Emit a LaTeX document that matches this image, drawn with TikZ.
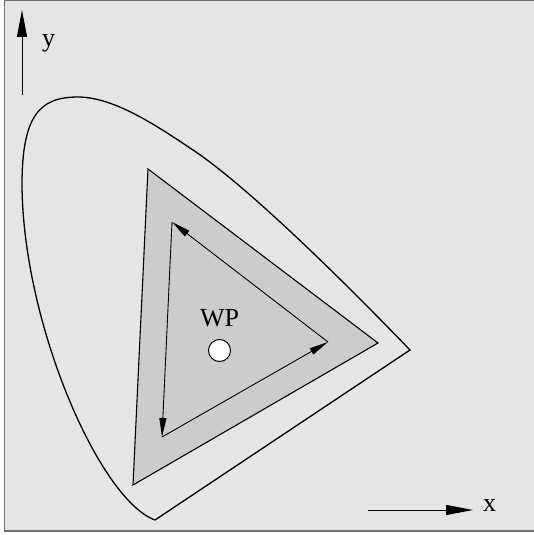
\documentclass[tikz,border=0pt]{standalone}
\usepackage{fontspec}
\setmainfont{Liberation Serif}
\usetikzlibrary{arrows.meta}
\definecolor{bgray}{HTML}{E5E5E5}
\definecolor{tgray}{HTML}{CCCCCC}
\definecolor{fgray}{HTML}{6E6E6E}
\tikzset{
  lbl/.style={inner sep=0pt, font=\fontsize{26}{30}\selectfont},
  axis/.style={line width=1pt, -{Triangle[length=27pt,width=10pt]}},
  cyc/.style={line width=0.9pt, -{Triangle[length=19pt,width=7pt]}},
}
\begin{document}
\begin{tikzpicture}[x=1pt,y=-1pt]
\useasboundingbox (0,0) rectangle (534,535);
\fill[white] (0,0) rectangle (534,535);
\draw[fgray, fill=bgray, line width=1.5pt] (4.5,0.3) rectangle (534.5,531);
% gamut horseshoe
\coordinate (G1) at (155,520);
\coordinate (G2) at (22,185);
\coordinate (G3) at (78,97);
\coordinate (G4) at (193,150);
\coordinate (G5) at (410,350);
\draw[line width=1.3pt, line join=miter]
  (G1) .. controls (100,500) and (23,325) .. (G2)
       .. controls (22,115) and (40,97) .. (G3)
       .. controls (115,97) and (160,128) .. (G4)
       .. controls (253,190) and (360,298) .. (G5)
  -- cycle;
% outer triangle
\coordinate (OT) at (148,169);
\coordinate (OR) at (378,343);
\coordinate (OB) at (133,485);
\draw[fill=tgray, line width=1.1pt, line join=miter] (OT) -- (OR) -- (OB) -- cycle;
% inner cycle
\coordinate (T) at (172,222);
\coordinate (R) at (328,342);
\coordinate (B) at (162,437);
\draw[cyc] (B) -- (R);
\draw[cyc] (R) -- (T);
\draw[cyc] (T) -- (B);
% white point
\node[lbl, anchor=base] (wp) at (219.5,326) {WP};
\node[circle, draw, fill=white, line width=1pt, minimum size=22pt, inner sep=0pt] (wpc) at (219.5,350.5) {};
% axes
\coordinate (y0) at (22,95);
\coordinate (y1) at (22,10);
\draw[axis] (y0) -- (y1);
\node[lbl, anchor=base west] (ylab) at (42,47) {y};
\coordinate (x0) at (368,510);
\coordinate (x1) at (473,510);
\draw[axis] (x0) -- (x1);
\node[lbl, anchor=base west] (xlab) at (483,511) {x};
\end{tikzpicture}
\end{document}
